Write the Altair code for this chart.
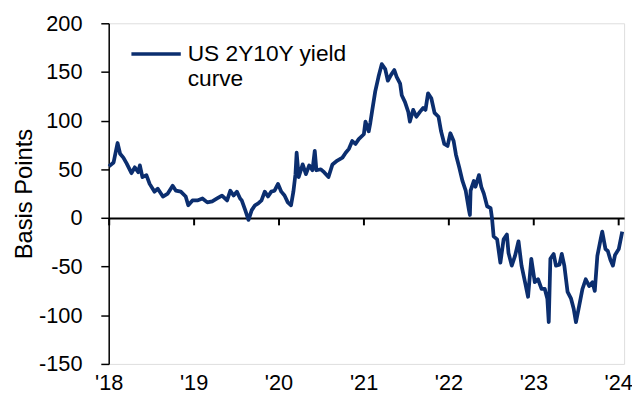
import altair as alt
import pandas as pd

# ---- data (basis points) ----
dates = [
    "2018-01-02", "2018-01-22", "2018-02-08", "2018-02-19", "2018-03-05", "2018-03-19", "2018-04-09", "2018-04-23",
    "2018-05-08", "2018-05-15", "2018-05-26", "2018-06-12", "2018-06-26", "2018-07-17", "2018-07-31", "2018-08-22",
    "2018-09-12", "2018-10-03", "2018-10-17", "2018-11-07", "2018-11-28", "2018-12-09", "2018-12-27",
    "2019-01-17", "2019-02-08", "2019-03-01", "2019-03-22", "2019-04-12", "2019-05-03", "2019-05-25", "2019-06-08",
    "2019-06-22", "2019-07-06", "2019-07-20", "2019-07-27", "2019-08-11", "2019-08-25", "2019-09-08", "2019-09-22",
    "2019-10-06", "2019-10-20", "2019-11-03", "2019-11-17", "2019-12-01", "2019-12-15", "2019-12-30",
    "2020-01-13", "2020-01-27", "2020-02-10", "2020-02-24", "2020-03-05", "2020-03-14", "2020-03-19", "2020-03-28",
    "2020-04-14", "2020-04-28", "2020-05-12", "2020-05-26", "2020-06-05", "2020-06-12", "2020-07-01", "2020-07-15",
    "2020-08-03", "2020-08-20", "2020-09-10", "2020-10-02", "2020-10-16", "2020-10-30", "2020-11-13", "2020-11-27",
    "2020-12-11",
    "2021-01-02", "2021-01-09", "2021-01-23", "2021-01-30", "2021-02-06", "2021-02-20", "2021-03-06", "2021-03-20",
    "2021-04-04", "2021-04-15", "2021-04-29", "2021-05-13", "2021-05-23", "2021-06-07", "2021-06-14", "2021-06-28",
    "2021-07-12", "2021-07-19", "2021-08-02", "2021-08-16", "2021-08-31", "2021-09-14", "2021-09-24", "2021-10-05",
    "2021-10-19", "2021-11-02", "2021-11-19", "2021-11-30", "2021-12-14", "2021-12-28",
    "2022-01-09", "2022-01-23", "2022-02-02", "2022-02-16", "2022-03-02", "2022-03-16", "2022-03-30", "2022-04-03",
    "2022-04-06", "2022-04-20", "2022-04-27", "2022-05-12", "2022-05-22", "2022-06-02", "2022-06-16", "2022-07-01",
    "2022-07-07", "2022-07-14", "2022-07-29", "2022-08-12", "2022-08-26", "2022-09-09", "2022-09-16", "2022-09-30",
    "2022-10-14", "2022-10-29", "2022-11-11", "2022-11-26", "2022-12-09", "2022-12-23",
    "2023-01-07", "2023-01-21", "2023-02-05", "2023-02-19", "2023-03-02", "2023-03-08", "2023-03-15", "2023-03-29",
    "2023-04-08", "2023-04-23", "2023-05-03", "2023-05-14", "2023-05-28", "2023-06-12", "2023-06-23", "2023-07-03",
    "2023-07-17", "2023-07-31", "2023-08-14", "2023-08-29", "2023-09-12", "2023-09-22", "2023-10-03", "2023-10-17",
    "2023-10-24", "2023-11-07", "2023-11-17", "2023-11-28", "2023-12-09", "2023-12-18",
    "2024-01-03", "2024-01-18",
]
spread_bp = [
    53, 57, 77, 66, 62, 56, 46, 52, 47, 54, 42, 44, 35, 27, 30, 22, 25, 33, 28, 27, 22, 13, 18,
    18, 20, 16, 17, 20, 23, 18, 28, 23, 27, 20, 18, 8, -2, 8, 13, 15, 18, 27, 22, 27, 28, 35,
    27, 23, 16, 13, 27, 45, 67, 42, 55, 45, 54, 49, 69, 49, 50, 47, 42, 55, 59, 62, 67, 71, 79, 76, 81,
    86, 99, 89, 98, 109, 130, 145, 158, 153, 141, 147, 152, 145, 138, 126, 119, 109, 99, 111, 104, 109,
    113, 111, 128, 123, 108, 104, 89, 76, 74,
    87, 79, 65, 52, 38, 28, 8, 3, 28, 38, 32, 44, 32, 25, 12, 10, 0, -19, -22, -46, -22, -17, -36, -49,
    -39, -24, -49, -66, -81, -42,
    -66, -63, -73, -73, -83, -107, -42, -37, -49, -48, -37, -49, -76, -83, -93, -107, -90, -73, -63, -70,
    -66, -75, -39, -22, -14, -32, -34, -43, -49, -38,
    -32, -14,
]
year_ticks = [2018, 2019, 2020, 2021, 2022, 2023, 2024]
y_ticks = [-150, -100, -50, 0, 50, 100, 150, 200]
x_domain = ["2018-01-01", "2024-01-26"]
y_domain = [-150, 200]
series_name = ["US 2Y10Y yield", "curve"]

NAVY = "#0B2E6F"
FONT = "Liberation Sans"
PLOT_W, PLOT_H = 522, 345
# the x axis line sits on the zero level of the y scale
zero_offset = -PLOT_H * (0 - y_domain[0]) / (y_domain[1] - y_domain[0])

df = pd.DataFrame({"date": dates, "value": spread_bp})
one_df = pd.DataFrame({"k": [0]})

x_scale = alt.Scale(domain=x_domain, nice=False)
y_scale = alt.Scale(domain=y_domain, nice=False, zero=False)

x_axis = alt.Axis(
    values=[alt.DateTime(year=y, month=1, date=1) for y in year_ticks],
    format="'%y",
    offset=zero_offset,
    domain=True,
    domainColor="black",
    domainWidth=2,
    ticks=True,
    tickColor="black",
    tickWidth=2,
    tickSize=7,
    tickCap="butt",
    grid=False,
    labelFontSize=22,
    labelFont=FONT,
    labelColor="black",
    labelPadding=-zero_offset + 2,
    labelFlush=False,
    labelOverlap=False,
)
y_axis = alt.Axis(
    values=y_ticks,
    labelExpr="datum.value < 0 ? '-' + abs(datum.value) : '' + datum.value",
    grid=False,
    domainColor="black",
    domainWidth=1.5,
    tickColor="black",
    tickWidth=1.5,
    tickSize=8,
    labelFontSize=22,
    labelFont=FONT,
    labelColor="black",
    labelPadding=19,
    titleFontSize=24,
    titleFont=FONT,
    titleFontWeight="normal",
    titleColor="black",
    titleX=-78,
    titleY=PLOT_H / 2,
    titleAngle=270,
    titleBaseline="alphabetic",
)

line = alt.Chart(df).mark_line(color=NAVY, strokeWidth=3.8, strokeJoin="round").encode(
    x=alt.X("date:T", scale=x_scale, title=None, axis=x_axis),
    y=alt.Y("value:Q", scale=y_scale, title="Basis Points", axis=y_axis),
)

legend_line = alt.Chart(one_df).mark_rule(color=NAVY, strokeWidth=3.5).encode(
    x=alt.value(23), x2=alt.value(73), y=alt.value(31)
)
legend_text = alt.Chart(one_df).mark_text(
    text=series_name,
    align="left",
    baseline="middle",
    font=FONT,
    fontSize=23,
    lineHeight=26,
    color="black",
).encode(x=alt.value(80), y=alt.value(31))

chart = (
    alt.layer(line, legend_line, legend_text)
    .properties(
        width=PLOT_W,
        height=PLOT_H,
        autosize=alt.AutoSizeParams(type="none"),
        padding={"left": 102, "top": 13, "right": 8, "bottom": 30},
    )
    .configure_view(stroke=None)
    .configure(font=FONT)
)

chart.save("out.html", embed_options={"renderer": "svg", "actions": False})
